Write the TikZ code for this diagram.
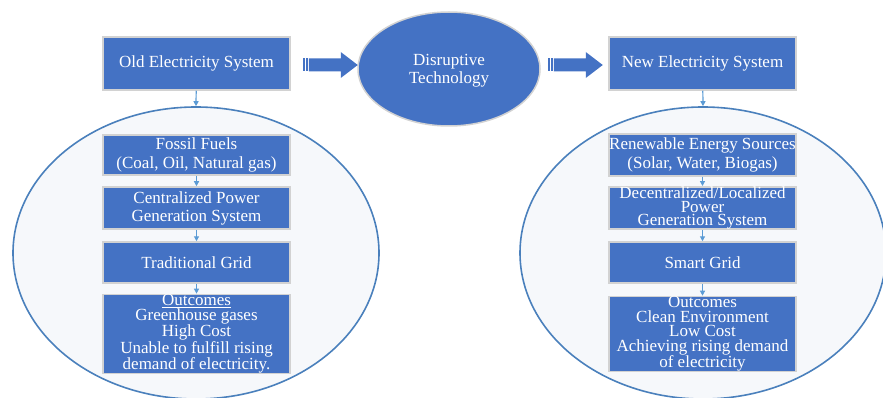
\documentclass[tikz,border=0pt]{standalone}
\usepackage{fontspec}
\setmainfont{Liberation Serif}
\usetikzlibrary{shapes.geometric,arrows.meta}

\definecolor{boxblue}{HTML}{4472C4}
\definecolor{linkblue}{HTML}{5B9BD5}
\definecolor{ringline}{HTML}{4A80BC}
\definecolor{ringfill}{HTML}{F6F8FB}

% striped block arrow, drawn from its tail centre
\tikzset{
  blockarrow/.pic={
    \fill[boxblue] (0,-6.5) rectangle (2,6.5);
    \fill[boxblue] (3,-6.5) rectangle (5,6.5);
    \fill[boxblue] (6,-6.5) -- (38,-6.5) -- (38,-13) -- (55,0)
      -- (38,13) -- (38,6.5) -- (6,6.5) -- cycle;
  },
}

\begin{document}
\begin{tikzpicture}[
  x=1pt, y=-1pt,
  font=\fontsize{17}{19}\selectfont,
  block/.style={draw=gray!35, line width=1.5pt, fill=boxblue, text=white,
    inner sep=0pt, align=center, minimum width=187pt},
  ring/.style={ellipse, draw=ringline, line width=1.6pt, fill=ringfill,
    inner sep=0pt, minimum width=366pt, minimum height=292pt},
  hub/.style={ellipse, draw=gray!35, line width=1.5pt, fill=boxblue,
    text=white, align=center, inner sep=0pt,
    minimum width=182pt, minimum height=114pt},
  link/.style={-{Triangle[width=5pt,length=5pt]}, draw=linkblue, line width=1.2pt},
]
\useasboundingbox (0,0) rectangle (883,398);

% the two circles holding each chain
\node[ring] (oldring) at (196,253) {};
\node[ring] (newring) at (703,253) {};

% top row
\node[block, minimum height=53pt] (old) at (196.5,63.5) {Old Electricity System};
\node[hub, font=\fontsize{17}{18}\selectfont] (disrupt) at (449,69) {};
\node[align=center, text=white, font=\fontsize{17}{18}\selectfont] (disrupttext)
  at (449,71) {Disruptive\\Technology};
\node[block, minimum height=53pt] (new) at (702.5,63.5) {New Electricity System};

\pic at ([xshift=12pt]old.east |- 0,65) {blockarrow};
\pic at ([xshift=7pt]disrupt.east |- 0,65) {blockarrow};

% old chain
\node[block, minimum height=40pt] (fossil) at (196.5,155)
  {Fossil Fuels\\(Coal, Oil, Natural gas)};
\node[block, minimum height=42pt, font=\fontsize{17}{18}\selectfont] (central) at (196.5,208)
  {Centralized Power\\Generation System};
\node[block, minimum height=41pt] (tradgrid) at (196.5,262.5) {Traditional Grid};
\node[block, minimum height=75pt, font=\fontsize{17}{14.5}\selectfont] (oldout) at (196.5,334)
  {\underline{Outcomes}\\Greenhouse gases\\High Cost\\Unable to fulfill rising\\demand of electricity.};

% new chain
\node[block, minimum height=42pt] (renew) at (702.5,155)
  {Renewable Energy Sources\\(Solar, Water, Biogas)};
\node[block, minimum height=42pt, font=\fontsize{17}{13.5}\selectfont] (decent) at (702.5,208)
  {Decentralized/Localized\\Power\\ Generation System};
\node[block, minimum height=41pt] (smartgrid) at (702.5,262.5) {Smart Grid};
\node[block, minimum height=75pt, font=\fontsize{17}{14.5}\selectfont] (newout) at (702.5,334)
  {Outcomes\\Clean Environment\\Low Cost\\Achieving rising demand\\of electricity};

% small links
\draw[link] (old) -- (oldring.north);
\draw[link] (fossil) -- (central);
\draw[link] (central) -- (tradgrid);
\draw[link] (tradgrid) -- (oldout);

\draw[link] (new) -- (newring.north);
\draw[link] (renew) -- (decent);
\draw[link] (decent) -- (smartgrid);
\draw[link] (smartgrid) -- (newout);

\end{tikzpicture}
\end{document}
